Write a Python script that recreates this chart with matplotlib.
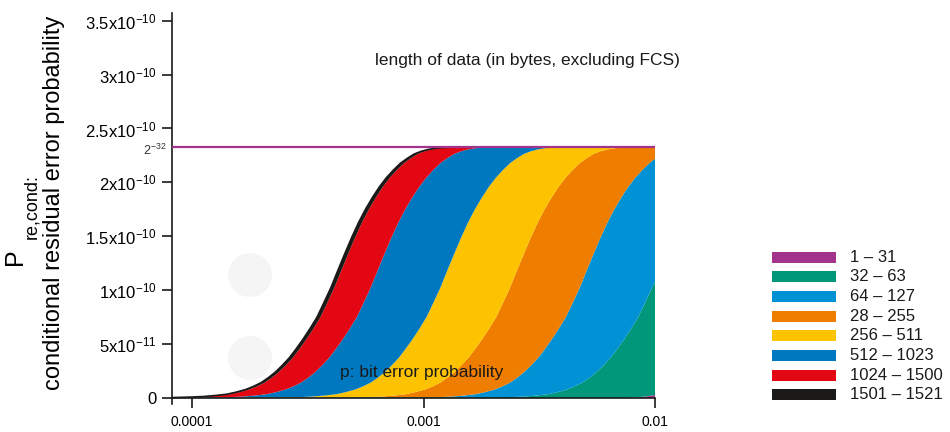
import numpy as np
from matplotlib import pyplot as plt
from matplotlib.patches import Ellipse, Rectangle

plt.rcParams['font.family'] = ['Liberation Sans', 'DejaVu Sans']
plt.rcParams['mathtext.default'] = 'regular'

# heights are in units of 1e-11, p is the bit error probability
P_MIN = 8.2e-5
P_MAX = 0.01
TOP = 23.28  # 2^-32

# heights at which the boundary curves were read
heights = [0.09, 0.14, 0.23, 0.35, 0.54, 0.77, 1.07, 1.44, 1.89, 2.40, 3.03, 3.72,
           4.56, 5.47, 6.45, 7.50, 8.85, 10.24, 11.83, 13.39, 14.90, 16.30, 17.53, 18.62,
           19.60, 20.44, 21.14, 21.77, 22.23, 22.63, 22.88, 23.05, 23.16, 23.23, 23.28]

# p position (x 1e-4) of each boundary curve at those heights
p_1521 = [1.000, 1.122, 1.259, 1.413, 1.549, 1.698, 1.841, 1.995, 2.138, 2.291, 2.455, 2.630,
          2.818, 3.020, 3.236, 3.467, 3.715, 3.981, 4.266, 4.571, 4.898, 5.248, 5.623, 6.026,
          6.457, 6.918, 7.413, 7.943, 8.511, 9.120, 9.772, 10.47, 11.22, 12.02, 13.80]
p_1501 = [1.035, 1.161, 1.303, 1.462, 1.603, 1.757, 1.905, 2.065, 2.213, 2.371, 2.541, 2.722,
          2.917, 3.126, 3.349, 3.588, 3.845, 4.120, 4.415, 4.731, 5.069, 5.432, 5.820, 6.237,
          6.683, 7.160, 7.672, 8.221, 8.809, 9.439, 10.11, 10.84, 11.61, 12.44, 14.28]
p_1024 = [1.485, 1.667, 1.870, 2.099, 2.301, 2.522, 2.735, 2.963, 3.176, 3.403, 3.647, 3.907,
          4.186, 4.486, 4.807, 5.150, 5.518, 5.913, 6.337, 6.790, 7.276, 7.795, 8.352, 8.951,
          9.591, 10.28, 11.01, 11.80, 12.64, 13.55, 14.52, 15.55, 16.67, 17.85, 20.50]
p_512 = [2.971, 3.333, 3.740, 4.198, 4.602, 5.044, 5.469, 5.927, 6.351, 6.806, 7.293, 7.813,
         8.371, 8.972, 9.613, 10.30, 11.04, 11.83, 12.67, 13.58, 14.55, 15.59, 16.70, 17.90,
         19.18, 20.55, 22.02, 23.60, 25.28, 27.09, 29.03, 31.10, 33.33, 35.71, 41.00]
p_256 = [5.941, 6.666, 7.480, 8.395, 9.203, 10.09, 10.94, 11.85, 12.70, 13.61, 14.59, 15.62,
         16.74, 17.94, 19.23, 20.60, 22.07, 23.65, 25.34, 27.16, 29.10, 31.18, 33.41, 35.80,
         38.36, 41.10, 44.04, 47.19, 50.56, 54.18, 58.06, 62.20, 66.66, 71.41, 81.99]
p_128 = [11.88, 13.33, 14.96, 16.79, 18.41, 20.18, 21.87, 23.70, 25.40, 27.22, 29.17, 31.25,
         33.48, 35.88, 38.45, 41.19, 44.14, 47.30, 50.69, 54.31, 58.20, 62.36, 66.81, 71.60,
         76.72, 82.20, 88.08, 94.38]
p_64 = [24.40, 27.38, 30.72, 34.48, 37.80, 41.43, 44.92, 48.68, 52.17, 55.90, 59.90, 64.17,
        68.76, 73.69, 78.96, 84.59, 90.65, 97.14]
# heights at the right edge (p = 0.01) for curves that have not reached 2^-32
end_128 = 22.2
end_64 = 10.8
p_32 = [0.82, 75.0, 85.0, 93.0, 100.0]
v_32 = [0.0, 0.0, 0.08, 0.17, 0.28]

legend_labels = ['1 – 31', '32 – 63', '64 – 127', '28 – 255', '256 – 511',
                 '512 – 1023', '1024 – 1500', '1501 – 1521']
legend_colors = ['#a2348c', '#00977a', '#0092d4', '#ee7d00', '#fdc300',
                 '#0078bf', '#e30613', '#1b1a18']

x_ticks = [0.0001, 0.001, 0.01]
x_tick_labels = ['0.0001', '0.001', '0.01']
y_ticks = [0, 5e-11, 1e-10, 1.5e-10, 2e-10, 2.5e-10, 3e-10, 3.5e-10]
y_tick_labels = ['0', r'5x10$^{-11}$', r'1x10$^{-10}$', r'1.5x10$^{-10}$', r'2x10$^{-10}$',
                 r'2.5x10$^{-10}$', r'3x10$^{-10}$', r'3.5x10$^{-10}$']


def full_curve(p_list, start):
    x = [P_MIN] + [p * 1e-4 for p in p_list] + [P_MAX]
    y = [start] + heights + [TOP]
    return np.array(x), np.array(y)


def cut_curve(p_list, end):
    n = len(p_list)
    x = [P_MIN] + [p * 1e-4 for p in p_list] + [P_MAX]
    y = [0.0] + heights[:n] + [end]
    return np.array(x), np.array(y)


def fill_band(ax, left, right, color):
    xs = np.concatenate([left[0], right[0][::-1]])
    ys = np.concatenate([left[1], right[1][::-1]]) * 1e-11
    ax.fill(xs, ys, color=color, lw=0, zorder=2)


def main():
    fig = plt.figure(figsize=(9.5, 4.32), dpi=100)
    ax = fig.add_axes([0.1811, 0.0637, 0.5084, 0.9060])

    c1521 = full_curve(p_1521, 0.04)
    c1501 = full_curve(p_1501, 0.03)
    c1024 = full_curve(p_1024, 0.01)
    c512 = full_curve(p_512, 0.0)
    c256 = full_curve(p_256, 0.0)
    c128 = cut_curve(p_128, end_128)
    c64 = cut_curve(p_64, end_64)
    c32 = (np.array(p_32) * 1e-4, np.array(v_32))
    c1 = (np.array([P_MIN, P_MAX]), np.array([0.0, 0.0]))

    # bands from right to left, same order as the legend
    curves = [c1, c32, c64, c128, c256, c512, c1024, c1501, c1521]
    for i, color in enumerate(legend_colors):
        fill_band(ax, curves[i + 1], curves[i], color)
    ax.plot(c1521[0], c1521[1] * 1e-11, color=legend_colors[-1], lw=1.2, zorder=3)

    ax.axhline(TOP * 1e-11, color=legend_colors[0], lw=1.6, zorder=4)
    ax.text(-0.012, TOP * 1e-11 - 0.03e-10, r'$2^{-32}$', transform=ax.get_yaxis_transform(),
            ha='right', va='center', fontsize=9, color='#333333')

    # faint grey dots in the background
    for cy in [275, 358]:
        ax.add_patch(Ellipse((250 / 950, 1 - cy / 432), 44 / 950, 44 / 432,
                             transform=fig.transFigure, color='#f5f5f5', lw=0, zorder=1))

    ax.set_xscale('log')
    ax.set_xlim(P_MIN, P_MAX)
    ax.set_ylim(-0.06e-10, 3.57e-10)
    ax.spines['top'].set_visible(False)
    ax.spines['right'].set_visible(False)
    ax.spines['bottom'].set_position(('data', 0))
    ax.spines['bottom'].set_zorder(5)
    for s in ['left', 'bottom']:
        ax.spines[s].set_linewidth(1.2)
        ax.spines[s].set_color('#1a1a1a')

    ax.set_xticks(x_ticks)
    ax.set_xticklabels(x_tick_labels)
    ax.xaxis.set_minor_locator(plt.NullLocator())
    ax.set_yticks(y_ticks)
    ax.set_yticklabels(y_tick_labels)
    ax.tick_params(axis='x', length=7, width=1.2, pad=5, labelsize=10, color='#1a1a1a')
    ax.tick_params(axis='y', length=7, width=1.2, pad=4, labelsize=12, color='#1a1a1a')

    ax.text(527 / 950, 1 - 60 / 432, 'length of data (in bytes, excluding FCS)',
            transform=fig.transFigure, ha='center', va='center', fontsize=12.5, color='#1a1a1a')
    ax.text(422 / 950, 1 - 373 / 432, 'p: bit error probability',
            transform=fig.transFigure, ha='center', va='center', fontsize=12.5, color='#1a1a1a',
            zorder=6)

    # y axis title
    fig.text(15 / 950, 1 - 257 / 432, 'P', rotation=90, ha='center', va='center', fontsize=18)
    fig.text(32 / 950, 1 - 207 / 432, 're,cond:', rotation=90, ha='center', va='center',
             fontsize=13)
    fig.text(54 / 950, 1 - 203 / 432, 'conditional residual error probability', rotation=90,
             ha='center', va='center', fontsize=17)

    # legend
    for i in range(len(legend_labels)):
        yc = 1 - (257 + 19.7 * i) / 432
        fig.patches.append(Rectangle((772 / 950, yc - 5.5 / 432), 64 / 950, 11 / 432,
                                     transform=fig.transFigure, color=legend_colors[i], lw=0))
        fig.text(850 / 950, yc, legend_labels[i], ha='left', va='center', fontsize=12,
                 color='#1a1a1a')

    fig.savefig('out.png', dpi=100)


if __name__ == '__main__':
    main()
